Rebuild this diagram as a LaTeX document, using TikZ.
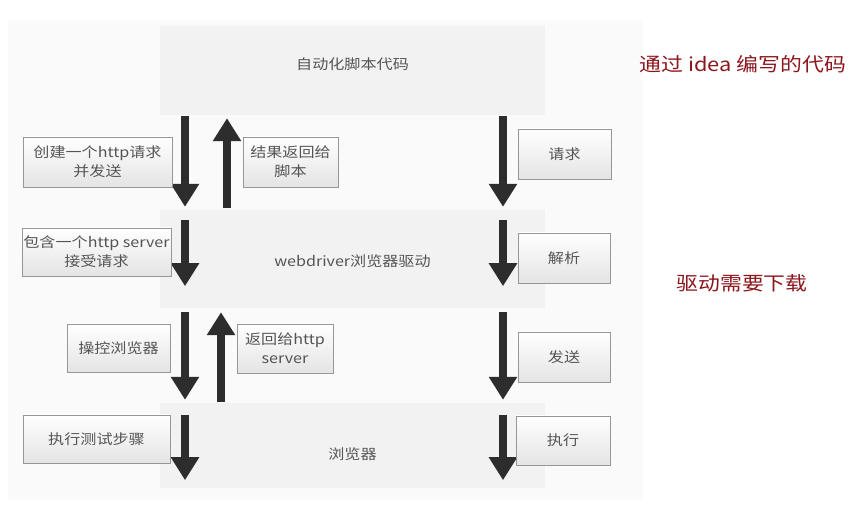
\documentclass[tikz,border=0pt]{standalone}
\usepackage{fontspec}
\newfontfamily\cjk[FakeStretch=1.15]{Noto Sans CJK SC}
\usetikzlibrary{arrows.meta,calc}
\definecolor{panelgray}{RGB}{250,250,251}
\definecolor{layergray}{RGB}{242,242,242}
\definecolor{notegray}{RGB}{150,150,150}
\definecolor{notefill}{RGB}{228,228,228}
\definecolor{textgray}{RGB}{85,85,85}
\definecolor{arrowgray}{RGB}{45,45,45}
\definecolor{remarkred}{RGB}{140,22,28}
\tikzset{
  layer/.style={
    fill=layergray,
    draw=none,
    minimum width=385pt,
    inner sep=0pt
  },
  layertext/.style={
    inner sep=0pt,
    text=textgray,
    font=\cjk\fontsize{14}{17}\selectfont
  },
  note/.style={
    draw=notegray,
    line width=0.8pt,
    top color=white,
    bottom color=notefill,
    inner sep=0pt,
    align=center,
    text=textgray,
    font=\cjk\fontsize{14}{19}\selectfont
  },
  flow/.style={
    draw=arrowgray,
    line width=8pt,
    -{Triangle[length=23pt,width=27pt]}
  },
  remark/.style={
    text=remarkred,
    font=\cjk\fontsize{19}{22}\selectfont
  }
}
\newcommand{\diagramframe}{%
  \useasboundingbox (0,0) rectangle (863,510);
  \fill[white] (0,0) rectangle (863,510);
  \fill[panelgray] (8,20) rectangle (643,500);
}

\begin{document}
\begin{tikzpicture}[x=1pt,y=-1pt]
  \diagramframe
  % layers
  \node[layer, minimum height=89pt] (script) at (352.5,70.5) {};
  \node[layer, minimum height=98pt] (driver) at (352.5,259) {};
  \node[layer, minimum height=85pt] (browser) at (352.5,445.5) {};
  \node[layertext] (scripttext) at ([yshift=6pt]script.center) {自动化脚本代码};
  \node[layertext] (drivertext) at ([yshift=-2pt]driver.center) {webdriver浏览器驱动};
  \node[layertext] (browsertext) at ([yshift=-9pt]browser.center) {浏览器};
  % arrow columns
  \coordinate (downL) at (185,0);
  \coordinate (upA) at (227,0);
  \coordinate (upB) at (221,0);
  \coordinate (downR) at (503,0);
  \draw[flow, shorten <=1pt, shorten >=3pt] (downL |- script.south) -- (downL |- driver.north);
  \draw[flow, shorten <=2pt, shorten >=3pt] (upA |- driver.north) -- (upA |- script.south);
  \draw[flow] ([yshift=-10pt]downL |- driver.north) -- ([yshift=22pt]downL |- driver.south);
  \draw[flow, shorten <=4pt, shorten >=3pt] (downL |- driver.south) -- (downL |- browser.north);
  \draw[flow, shorten <=1pt, shorten >=4pt] (upB |- browser.north) -- (upB |- driver.south);
  \draw[flow] ([yshift=-12pt]downL |- browser.north) -- ([yshift=8pt]downL |- browser.south);
  \draw[flow, shorten <=1pt, shorten >=3pt] (downR |- script.south) -- (downR |- driver.north);
  \draw[flow] ([yshift=-10pt]downR |- driver.north) -- ([yshift=22pt]downR |- driver.south);
  \draw[flow, shorten <=4pt, shorten >=3pt] (downR |- driver.south) -- (downR |- browser.north);
  \draw[flow] ([yshift=-12pt]downR |- browser.north) -- ([yshift=8pt]downR |- browser.south);
  % notes
  \node[note, minimum width=149pt, minimum height=50pt] (create) at (97.5,162) {创建一个http请求\\并发送};
  \node[note, minimum width=95pt, minimum height=50pt] (result) at (290.5,162) {结果返回给\\脚本};
  \node[note, minimum width=93pt, minimum height=50pt] (request) at (564.5,154) {请求};
  \node[note, minimum width=149pt, minimum height=48pt] (server) at (96.5,252) {包含一个http server\\接受请求};
  \node[note, minimum width=92pt, minimum height=50pt] (parse) at (564,258) {解析};
  \node[note, minimum width=103pt, minimum height=48pt] (control) at (118.5,348) {操控浏览器};
  \node[note, minimum width=96pt, minimum height=49pt] (reply) at (285,348.5) {返回给http\\server};
  \node[note, minimum width=92pt, minimum height=50pt] (send) at (564,357) {发送};
  \node[note, minimum width=147pt, minimum height=48pt] (steps) at (96.5,439) {执行测试步骤};
  \node[note, minimum width=94pt, minimum height=49pt] (run) at (563,440.5) {执行};
  % remarks
  \node[remark] (idea) at (743,64) {通过 idea 编写的代码};
  \node[remark] (download) at (742,283) {驱动需要下载};
\end{tikzpicture}
\end{document}
